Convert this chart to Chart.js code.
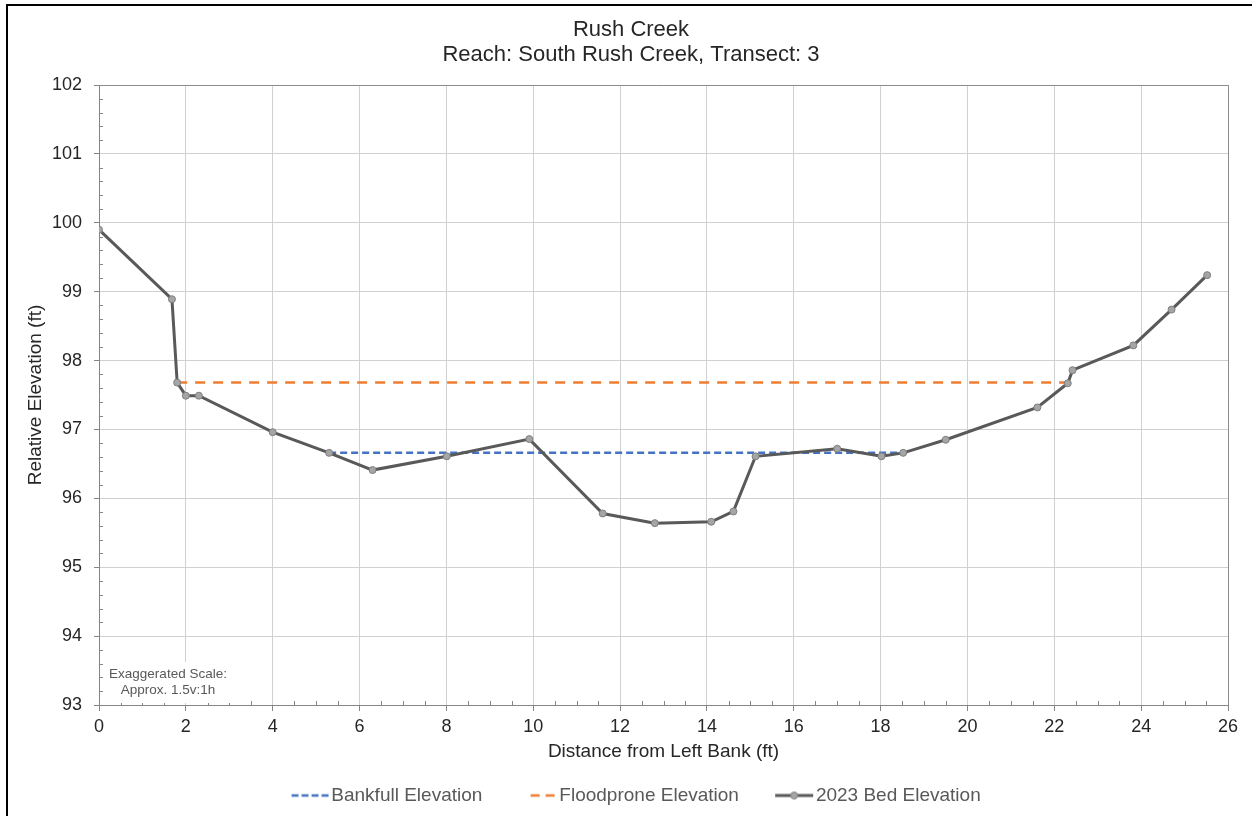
<!DOCTYPE html>
<html>
<head>
<meta charset="utf-8">
<title>Rush Creek - South Rush Creek, Transect 3</title>
<script src="https://cdn.jsdelivr.net/npm/chart.js@4.4.1/dist/chart.umd.min.js"></script>
<style>
  html, body { margin: 0; padding: 0; background: #fff; }
  #xs-chart { display: block; }
</style>
</head>
<body>
<canvas id="xs-chart" width="1252" height="816"></canvas>
<script>
const distance = [0, 1.68, 1.80, 2.00, 2.30, 4.00, 5.30, 6.30, 8.01, 9.91, 11.60, 12.80, 14.10,
  14.61, 15.12, 17.00, 18.02, 18.52, 19.50, 21.61, 22.31, 22.42, 23.82, 24.70, 25.52];
const bedElevation = [99.90, 98.89, 97.68, 97.49, 97.49, 96.96, 96.66, 96.41, 96.61, 96.86, 95.78, 95.64, 95.66,
  95.81, 96.61, 96.72, 96.61, 96.66, 96.85, 97.32, 97.67, 97.86, 98.22, 98.74, 99.24];

const bankfullX = [5.30, 18.52];
const bankfullY = [96.66, 96.66];
const floodproneX = [1.80, 22.31];
const floodproneY = [97.68, 97.68];

const xTickValues = [0, 2, 4, 6, 8, 10, 12, 14, 16, 18, 20, 22, 24, 26];
const yTickValues = [93, 94, 95, 96, 97, 98, 99, 100, 101, 102];

const titleLines = ["Rush Creek", "Reach: South Rush Creek, Transect: 3"];
const seriesNames = ["Bankfull Elevation", "Floodprone Elevation", "2023 Bed Elevation"];
const noteLines = ["Exaggerated Scale:", "Approx. 1.5v:1h"];

const FONT = "'Liberation Sans', Arial, sans-serif";
const BLUE = "#4472c4";
const ORANGE = "#ed7d31";
const BED = "#595959";

const toPoints = (xs, ys) => xs.map((x, i) => ({ x, y: ys[i] }));

// small canvases used as legend symbols (line samples)
function swatch(kind) {
  const c = document.createElement("canvas");
  c.width = 80;
  c.height = 20;
  const g = c.getContext("2d");
  g.lineWidth = 2.5;
  if (kind === "bankfull") {
    g.strokeStyle = BLUE;
    g.setLineDash([7, 3]);
    g.beginPath(); g.moveTo(30, 10); g.lineTo(68, 10); g.stroke();
  } else if (kind === "floodprone") {
    g.strokeStyle = ORANGE;
    g.setLineDash([9, 6]);
    g.beginPath(); g.moveTo(41, 10); g.lineTo(65, 10); g.stroke();
  } else {
    g.strokeStyle = BED;
    g.lineWidth = 3;
    g.beginPath(); g.moveTo(29, 10); g.lineTo(67, 10); g.stroke();
    g.fillStyle = "#a5a5a5";
    g.strokeStyle = "#7f7f7f";
    g.lineWidth = 1;
    g.beginPath(); g.arc(48, 10, 3.5, 0, Math.PI * 2); g.fill(); g.stroke();
  }
  return c;
}
const swatches = [swatch("bankfull"), swatch("floodprone"), swatch("bed")];

const decorations = {
  id: "decorations",
  beforeDraw(chart) {
    const ctx = chart.ctx;
    ctx.save();
    ctx.strokeStyle = "#000";
    ctx.lineWidth = 2;
    ctx.strokeRect(7, 5, 1400, 1000);
    ctx.restore();
  },
  beforeDatasetsDraw(chart) {
    const { ctx, chartArea: a, scales } = chart;
    const x = scales.x, y = scales.y;
    ctx.save();

    // minor tick marks
    ctx.strokeStyle = "#868686";
    ctx.lineWidth = 1;
    ctx.beginPath();
    for (let v = 0.5; v < 26; v += 0.5) {
      if (v % 2 === 0) continue;
      const px = Math.round(x.getPixelForValue(v)) + 0.5;
      ctx.moveTo(px, a.bottom);
      ctx.lineTo(px, a.bottom - 4);
    }
    for (let v = 93.2; v < 102; v += 0.2) {
      if (Math.abs(v - Math.round(v)) < 0.01) continue;
      const py = Math.round(y.getPixelForValue(v)) + 0.5;
      ctx.moveTo(a.left, py);
      ctx.lineTo(a.left + 4, py);
    }
    ctx.stroke();

    // plot area frame (top + right)
    ctx.strokeStyle = "#8c8c8c";
    ctx.beginPath();
    ctx.moveTo(a.left, Math.round(a.top) + 0.5);
    ctx.lineTo(Math.round(a.right) + 0.5, Math.round(a.top) + 0.5);
    ctx.lineTo(Math.round(a.right) + 0.5, a.bottom);
    ctx.stroke();

    // scale note with white box
    ctx.fillStyle = "#fff";
    ctx.fillRect(a.left + 5, a.bottom - 43, 128, 41);
    ctx.fillStyle = "#595959";
    ctx.font = "13.5px " + FONT;
    ctx.textAlign = "center";
    ctx.textBaseline = "middle";
    ctx.fillText(noteLines[0], a.left + 69, a.bottom - 31);
    ctx.fillText(noteLines[1], a.left + 69, a.bottom - 15);
    ctx.restore();
  }
};

new Chart(document.getElementById("xs-chart"), {
  type: "line",
  data: {
    datasets: [
      {
        label: seriesNames[0],
        data: toPoints(bankfullX, bankfullY),
        borderColor: BLUE,
        borderWidth: 2.5,
        borderDash: [7, 4],
        pointRadius: 0,
        order: 1
      },
      {
        label: seriesNames[1],
        data: toPoints(floodproneX, floodproneY),
        borderColor: ORANGE,
        borderWidth: 2.5,
        borderDash: [10, 8],
        pointRadius: 0,
        order: 2
      },
      {
        label: seriesNames[2],
        data: toPoints(distance, bedElevation),
        borderColor: BED,
        borderWidth: 3,
        pointRadius: 3.5,
        pointBackgroundColor: "#a5a5a5",
        pointBorderColor: "#7f7f7f",
        pointBorderWidth: 1,
        tension: 0,
        order: 0
      }
    ]
  },
  options: {
    responsive: false,
    animation: false,
    devicePixelRatio: 1,
    layout: { padding: { left: 34, right: 24, top: 0, bottom: 1 } },
    plugins: {
      title: {
        display: true,
        text: titleLines,
        color: "#262626",
        font: { family: FONT, size: 22, weight: "normal", lineHeight: 25 / 22 },
        padding: { top: 17.5, bottom: 17.5 }
      },
      legend: {
        position: "bottom",
        labels: {
          usePointStyle: true,
          pointStyleWidth: 40.5,
          padding: 27,
          color: "#595959",
          font: { family: FONT, size: 19 },
          generateLabels: (chart) =>
            chart.data.datasets.map((ds, i) => ({
              text: ds.label,
              pointStyle: swatches[i],
              datasetIndex: i,
              hidden: false,
              lineWidth: 0,
              strokeStyle: "transparent",
              fillStyle: "transparent",
              fontColor: "#595959"
            }))
        }
      },
      tooltip: { enabled: false }
    },
    scales: {
      x: {
        type: "linear",
        min: 0,
        max: 26,
        afterBuildTicks: (s) => { s.ticks = xTickValues.map((v) => ({ value: v })); },
        afterFit: (s) => { s.height = 54; },
        ticks: { color: "#262626", font: { family: FONT, size: 18 }, padding: 5, maxRotation: 0 },
        grid: { color: "#d0d0d0", tickColor: "#868686", tickLength: 6 },
        border: { color: "#868686" },
        title: {
          display: true,
          text: "Distance from Left Bank (ft)",
          color: "#262626",
          font: { family: FONT, size: 19 },
          padding: { top: 0, bottom: -4.4 }
        }
      },
      y: {
        type: "linear",
        min: 93,
        max: 102,
        afterBuildTicks: (s) => { s.ticks = yTickValues.map((v) => ({ value: v })); },
        afterFit: (s) => { s.width = 65; },
        ticks: { color: "#262626", font: { family: FONT, size: 18 }, padding: 12 },
        grid: { color: "#d0d0d0", tickColor: "#868686", tickLength: 5 },
        border: { color: "#868686" },
        title: {
          display: true,
          text: "Relative Elevation (ft)",
          color: "#262626",
          font: { family: FONT, size: 19 },
          padding: { top: -9.4, bottom: 0 }
        }
      }
    }
  },
  plugins: [decorations]
});
</script>
</body>
</html>
